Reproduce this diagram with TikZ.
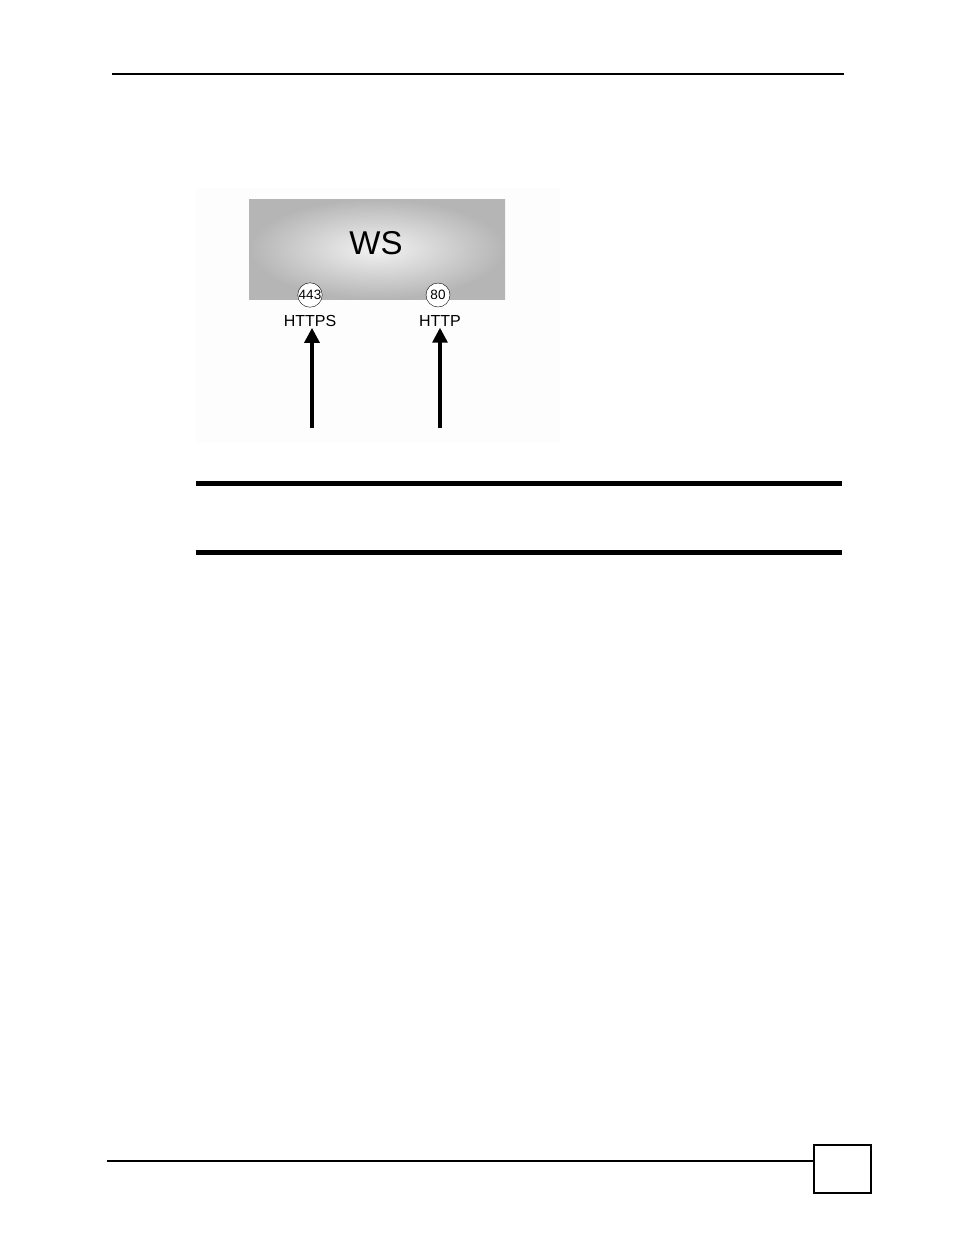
\documentclass[tikz,border=0pt]{standalone}
\usepackage{fontspec}
\setmainfont{Liberation Sans}
\usetikzlibrary{arrows.meta}
\begin{document}
\begin{tikzpicture}[x=1pt,y=-1pt]
        \useasboundingbox[fill=white] (0,0) rectangle (954,1235);
        % page rules
        \draw[line width=1.3pt] (112,74)--(844,74);
        \fill[gray!1.5] (195,188) rectangle (560,443);
        
        \shade[inner color=gray!10,outer color=gray!58] (249,199) rectangle (505,299);
        \node (WS) at (376,243){\fontsize{33}{36}\selectfont WS};
        
        \node[circle,draw,fill=white,thin,minimum size=24pt,inner sep=0pt] (p443) at (310,295){\fontsize{13.5}{14}\selectfont 443};
        \node[circle,draw,fill=white,thin,minimum size=24pt,inner sep=0pt] (p80) at (438,295){\fontsize{13.5}{14}\selectfont 80};
        \node[inner sep=1pt] (https) at (310,321){\fontsize{16}{18}\selectfont HTTPS};
        \node[inner sep=1pt] (http) at (440,321){\fontsize{16}{18}\selectfont HTTP};
        
        \coordinate (s1) at (312,428);
        \coordinate (s2) at (440,428);
        \draw[line width=3.2pt,-{Triangle[length=15pt,width=15pt]}] (s1)--(https.south-|s1);
        \draw[line width=3.2pt,-{Triangle[length=15pt,width=15pt]}] (s2)--(http.south-|s2);
        
        \fill (196,481) rectangle (842,486);
        \fill (196,550) rectangle (842,555);
        
        \draw[line width=1.3pt] (107,1161)--(814,1161);
        \draw[line width=2pt] (814,1145) rectangle (871,1193);
    \end{tikzpicture}
\end{document}
